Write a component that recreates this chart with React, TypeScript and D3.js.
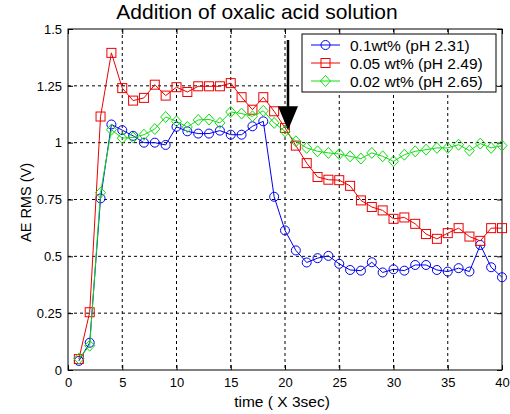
import React, { useEffect, useRef } from "react"
import * as d3 from "d3"

const times = d3.range(1, 41)
const blue = [0.04, 0.12, 0.755, 1.08, 1.055, 1.03, 1.0, 1.0, 0.99, 1.07, 1.05, 1.04, 1.04, 1.053, 1.035, 1.035, 1.072, 1.094, 0.762, 0.614, 0.526, 0.473, 0.492, 0.502, 0.467, 0.44, 0.437, 0.474, 0.429, 0.443, 0.437, 0.462, 0.462, 0.44, 0.433, 0.448, 0.433, 0.55, 0.452, 0.408]
const red = [0.048, 0.254, 1.115, 1.395, 1.24, 1.185, 1.197, 1.255, 1.207, 1.244, 1.223, 1.248, 1.248, 1.248, 1.262, 1.2, 1.145, 1.2, 1.138, 1.065, 0.987, 0.91, 0.849, 0.837, 0.835, 0.81, 0.746, 0.717, 0.702, 0.665, 0.671, 0.643, 0.598, 0.577, 0.602, 0.624, 0.587, 0.568, 0.624, 0.624]
const green = [0.05, 0.107, 0.78, 1.057, 1.02, 1.023, 1.035, 1.06, 1.113, 1.094, 1.069, 1.1, 1.102, 1.087, 1.135, 1.128, 1.116, 1.14, 1.087, 1.05, 1.006, 0.977, 0.962, 0.955, 0.95, 0.94, 0.93, 0.955, 0.94, 0.918, 0.947, 0.962, 0.969, 0.977, 0.977, 0.991, 0.965, 0.996, 0.977, 0.987]
const legendLabels = ["0.1wt% (pH 2.31)", "0.05 wt% (pH 2.49)", "0.02 wt% (pH 2.65)"]
const xTicks = [0, 5, 10, 15, 20, 25, 30, 35, 40]
const yTicks = [0, 0.25, 0.5, 0.75, 1, 1.25, 1.5]
const arrowAt = { x: 20, y: 1.05 }

function Chart() {
  const svgRef = useRef<SVGSVGElement>(null)

  useEffect(() => {
    const svg = d3.select(svgRef.current)
    svg.selectAll("*").remove()
    const left = 68, right = 502, top = 29, bottom = 370
    const font = "Liberation Sans, Arial, sans-serif"

    const x = d3.scaleLinear().domain([0, 40]).range([left, right])
    const y = d3.scaleLinear().domain([0, 1.5]).range([bottom, top])

    svg.append("rect").attr("x", 0).attr("y", 0).attr("width", 510).attr("height", 414).attr("fill", "#fff")

    // grid
    const grid = svg.append("g").attr("stroke", "#000").attr("stroke-dasharray", "3,3").attr("stroke-width", 1)
    xTicks.slice(1, -1).forEach(t => {
      grid.append("line").attr("x1", x(t)).attr("x2", x(t)).attr("y1", top).attr("y2", bottom)
    })
    yTicks.slice(1, -1).forEach(t => {
      grid.append("line").attr("x1", left).attr("x2", right).attr("y1", y(t)).attr("y2", y(t))
    })

    // axes (ticks inward, MATLAB style)
    const axB = svg.append("g").attr("transform", `translate(0,${bottom})`)
      .call(d3.axisBottom(x).tickValues(xTicks).tickSizeInner(-5).tickSizeOuter(0).tickPadding(8))
    const axL = svg.append("g").attr("transform", `translate(${left},0)`)
      .call(d3.axisLeft(y).tickValues(yTicks).tickFormat(d => String(d)).tickSizeInner(-5).tickSizeOuter(0).tickPadding(6))
    svg.append("g").attr("transform", `translate(0,${top})`)
      .call(d3.axisTop(x).tickValues(xTicks).tickSizeInner(-5).tickSizeOuter(0).tickFormat(() => ""))
    svg.append("g").attr("transform", `translate(${right},0)`)
      .call(d3.axisRight(y).tickValues(yTicks).tickSizeInner(-5).tickSizeOuter(0).tickFormat(() => ""))
    svg.selectAll(".domain").remove()
    svg.selectAll(".tick line").attr("stroke", "#000")
    ;[axB, axL].forEach(a => a.selectAll("text").attr("font-family", font).attr("font-size", 13).attr("fill", "#000"))
    svg.append("rect").attr("x", left).attr("y", top).attr("width", right - left).attr("height", bottom - top)
      .attr("fill", "none").attr("stroke", "#000")

    const series = [
      { data: blue, color: "#0000ee", marker: "circle" },
      { data: red, color: "#ee0000", marker: "square" },
      { data: green, color: "#11dd11", marker: "diamond" },
    ]
    const line = d3.line<number>().x((_, i) => x(times[i])).y(d => y(d))

    const drawMarker = (g: any, cx: number, cy: number, m: string, color: string) => {
      if (m === "circle") g.append("circle").attr("cx", cx).attr("cy", cy).attr("r", 4.5).attr("fill", "none").attr("stroke", color)
      else if (m === "square") g.append("rect").attr("x", cx - 4.5).attr("y", cy - 4.5).attr("width", 9).attr("height", 9).attr("fill", "none").attr("stroke", color)
      else g.append("path").attr("d", `M${cx},${cy - 5.5}L${cx + 5},${cy}L${cx},${cy + 5.5}L${cx - 5},${cy}Z`).attr("fill", "none").attr("stroke", color)
    }

    series.forEach(s => {
      svg.append("path").attr("d", line(s.data)).attr("fill", "none").attr("stroke", s.color).attr("stroke-width", 1)
      const g = svg.append("g")
      s.data.forEach((v, i) => drawMarker(g, x(times[i]), y(v), s.marker, s.color))
    })

    // arrow
    const ax = x(arrowAt.x) + 3
    const tipY = y(arrowAt.y) - 1
    svg.append("line").attr("x1", ax).attr("x2", ax).attr("y1", 40).attr("y2", tipY - 20).attr("stroke", "#000").attr("stroke-width", 2.5)
    svg.append("path").attr("d", `M${ax - 10},${tipY - 24}L${ax + 10},${tipY - 24}L${ax},${tipY}Z`).attr("fill", "#000")

    // legend
    const lg = svg.append("g")
    lg.append("rect").attr("x", 302).attr("y", 34).attr("width", 194).attr("height", 58).attr("fill", "#fff").attr("stroke", "#000")
    legendLabels.forEach((lab, i) => {
      const ly = 45 + i * 18
      lg.append("line").attr("x1", 311).attr("x2", 340).attr("y1", ly).attr("y2", ly).attr("stroke", series[i].color)
      drawMarker(lg, 325.5, ly, series[i].marker, series[i].color)
      lg.append("text").attr("x", 350).attr("y", ly + 5.5).text(lab)
        .attr("font-family", font).attr("font-size", 15.5).attr("fill", "#000")
    })

    // titles
    svg.append("text").attr("x", 257).attr("y", 19).attr("text-anchor", "middle")
      .attr("font-family", font).attr("font-size", 21).text("Addition of oxalic acid solution")
    svg.append("text").attr("x", 282).attr("y", 407).attr("text-anchor", "middle")
      .attr("font-family", font).attr("font-size", 15.5).text("time ( X 3sec)")
    svg.append("text").attr("transform", `translate(31,${(top + bottom) / 2 + 3}) rotate(-90)`).attr("text-anchor", "middle")
      .attr("font-family", font).attr("font-size", 14.5).text("AE RMS (V)")
  })

  return <svg ref={svgRef} width={510} height={414} style={{ display: "block" }}></svg>
}

export default function App() {
  return (
    <div style={{ position: "absolute", left: 0, top: 0 }}>
      <Chart />
    </div>
  )
}
